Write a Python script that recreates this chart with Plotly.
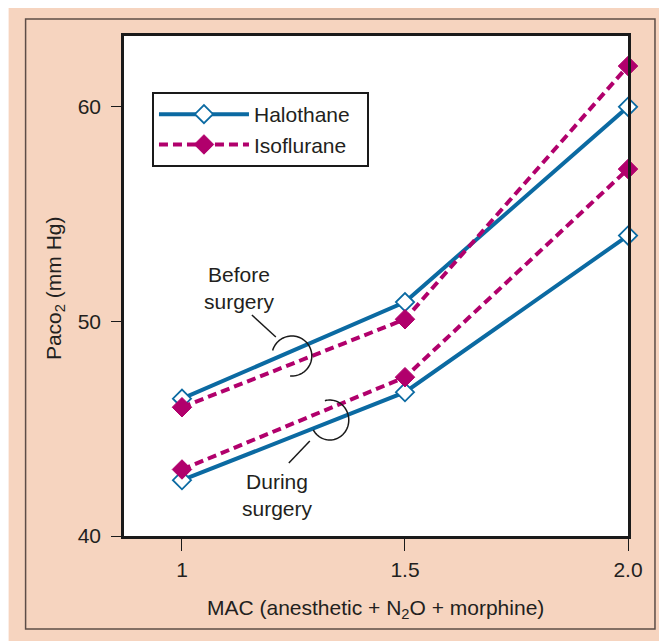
import numpy as np
import plotly.graph_objects as go

# ---- data ----
mac = [1, 1.5, 2.0]
x_ticks = [1, 1.5, 2.0]
x_ticklabels = ["1", "1.5", "2.0"]
y_ticks = [40, 50, 60]
halothane_before = [46.4, 50.9, 60.0]
isoflurane_before = [46.0, 50.1, 61.9]
halothane_during = [42.6, 46.7, 54.0]
isoflurane_during = [43.1, 47.4, 57.1]

# ---- layout geometry (reference-picture pixels; page body adds an 8px margin) ----
OFF = 8
W, H = 667 - OFF, 642 - OFF
L, R, T, B = 124, 628.5, 36, 536
X_RANGE = [0.87, 2.0]
Y_RANGE = [40, 63.3]

def px(x):
    return (x - L) / (R - L)

def py(y):
    return (B - y) / (B - T)

BLUE = "#0b6aa2"
MAG = "#b1006c"
PEACH = "#f6d4bf"
TXT = "#231f20"
FONT = "Liberation Sans, Arial, sans-serif"
FS = 21
PAD = "\u00a0\u00a0"

fig = go.Figure()

hal_style = dict(color=BLUE, width=4)
iso_style = dict(color=MAG, width=4, dash="9px,5px")
hal_marker = dict(symbol="diamond", size=14, color="white", line=dict(color=BLUE, width=1.8))
iso_marker = dict(symbol="diamond", size=15, color=MAG, line=dict(color=MAG, width=1))

fig.add_trace(go.Scatter(x=mac, y=halothane_before, mode="lines+markers", name="Halothane" + PAD,
                         line=hal_style, marker=hal_marker, legendgroup="h", cliponaxis=False))
fig.add_trace(go.Scatter(x=mac, y=isoflurane_before, mode="lines+markers", name="Isoflurane" + PAD,
                         line=iso_style, marker=iso_marker, legendgroup="i", cliponaxis=False))
fig.add_trace(go.Scatter(x=mac, y=halothane_during, mode="lines+markers", name="Halothane",
                         line=hal_style, marker=hal_marker, legendgroup="h", showlegend=False, cliponaxis=False))
fig.add_trace(go.Scatter(x=mac, y=isoflurane_during, mode="lines+markers", name="Isoflurane",
                         line=iso_style, marker=iso_marker, legendgroup="i", showlegend=False, cliponaxis=False))

shapes = []
shapes.append(dict(type="rect", xref="paper", yref="paper", layer="below",
                   x0=px(8.5), x1=px(680), y0=py(0), y1=py(641),
                   fillcolor=PEACH, line=dict(width=0)))
shapes.append(dict(type="rect", xref="paper", yref="paper", layer="below",
                   x0=px(25.5), x1=px(655.5), y0=py(19), y1=py(629),
                   fillcolor="rgba(0,0,0,0)", line=dict(color="#5d4d47", width=1.5)))
shapes.append(dict(type="rect", xref="paper", yref="paper", layer="below",
                   x0=0, x1=1, y0=0, y1=1, fillcolor="white", line=dict(width=0)))

def arc_path(cx, cy, rx, ry, t0, t1, n=60):
    ts = np.radians(np.linspace(t0, t1, n))
    pts = [(px(cx + rx * np.cos(t)), py(cy + ry * np.sin(t))) for t in ts]
    return "M" + " L".join(f"{a:.5f},{b:.5f}" for a, b in pts)

LEAD = dict(color="#1a1a1a", width=1.5)
shapes.append(dict(type="line", xref="paper", yref="paper",
                   x0=px(252), y0=py(315), x1=px(276), y1=py(337), line=LEAD))
shapes.append(dict(type="path", xref="paper", yref="paper",
                   path=arc_path(292, 356, 20, 20, 196, 455), line=LEAD))
shapes.append(dict(type="line", xref="paper", yref="paper",
                   x0=px(289), y0=py(463), x1=px(310), y1=py(441), line=LEAD))
shapes.append(dict(type="path", xref="paper", yref="paper",
                   path=arc_path(330, 420, 19, 20, 150, -105), line=LEAD))

def note(text, x, y, **kw):
    d = dict(text=text, x=px(x), y=py(y), xref="paper", yref="paper",
             xanchor="center", yanchor="middle", showarrow=False,
             font=dict(size=FS, color=TXT, family=FONT), align="center")
    d.update(kw)
    return d

annotations = [
    note("Before<br>surgery", 240, 288),
    note("During<br>surgery", 278, 495),
    note("MAC (anesthetic + N<sub>2</sub>O + morphine)", 376, 609),
    note("Paco<sub>2</sub> (mm Hg)", 55, 288, textangle=-90),
]

fig.update_layout(
    width=W, height=H,
    margin=dict(l=L - OFF, r=W - (R - OFF), t=T - OFF, b=H - (B - OFF), pad=0),
    paper_bgcolor="white",
    plot_bgcolor="rgba(0,0,0,0)",
    font=dict(family=FONT, size=FS, color=TXT),
    shapes=shapes,
    annotations=annotations,
    showlegend=True,
    legend=dict(x=px(152), y=py(92), xanchor="left", yanchor="top",
                bgcolor="white", bordercolor="#1a1a1a", borderwidth=2,
                font=dict(size=FS, color=TXT, family=FONT),
                itemwidth=90, tracegroupgap=0),
    xaxis=dict(range=X_RANGE, tickvals=x_ticks, ticktext=x_ticklabels,
               showgrid=False, zeroline=False, showline=True, mirror=True,
               linecolor="#1a1a1a", linewidth=2.5, ticks="outside", ticklen=12,
               tickcolor="#1a1a1a", tickwidth=1, ticklabelstandoff=1,
               tickfont=dict(size=FS, color=TXT, family=FONT)),
    yaxis=dict(range=Y_RANGE, tickvals=y_ticks,
               showgrid=False, zeroline=False, showline=True, mirror=True,
               linecolor="#1a1a1a", linewidth=2.5, ticks="outside", ticklen=10,
               tickcolor="#1a1a1a", tickwidth=1, ticklabelstandoff=6,
               tickfont=dict(size=FS, color=TXT, family=FONT)),
)

fig.write_html("out.html")
